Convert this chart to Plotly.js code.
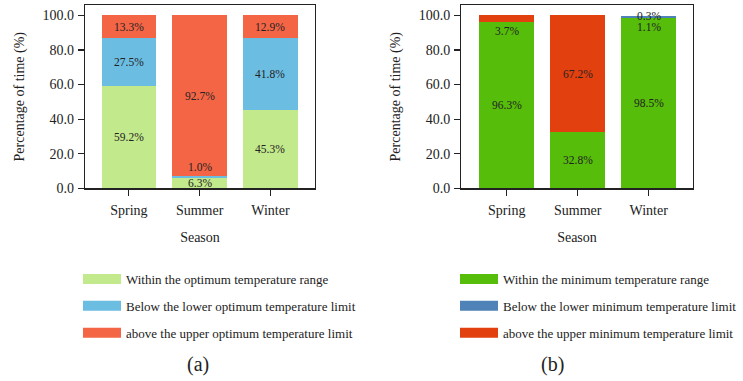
<!DOCTYPE html>
<html>
<head>
<meta charset="utf-8">
<script src="https://cdn.plot.ly/plotly-3.0.1.min.js"></script>
<style>
  html, body { margin: 0; padding: 0; background: #fff; }
  #chart { width: 743px; height: 381px; }
</style>
</head>
<body>
<div id="chart"></div>
<script>
// Seasons on the x axis (shared by both panels)
const seasons = ['Spring', 'Summer', 'Winter'];

// Panel (a): optimum temperature range, percentage of time
const optWithin = [59.2, 6.3, 45.3];
const optBelow  = [27.5, 1.0, 41.8];
const optAbove  = [13.3, 92.7, 12.9];
const optNames = [
  'Within the optimum temperature range',
  'Below the lower optimum temperature limit',
  'above the upper optimum temperature limit'
];

// Panel (b): minimum temperature range, percentage of time
const minWithin = [96.3, 32.8, 98.5];
const minBelow  = [0.0, 0.0, 1.1];
const minAbove  = [3.7, 67.2, 0.3];
const minNames = [
  'Within the minimum temperature range',
  'Below the lower minimum temperature limit',
  'above the upper minimum temperature limit'
];

const yTicks = [0, 20, 40, 60, 80, 100];

const colorsA = ['#c2e98b', '#6cbde2', '#f46546'];
const colorsB = ['#56bd0a', '#4f82b7', '#e3400f'];

const FONT = 'Liberation Serif, Times New Roman, serif';
const INK = '#222';
const W = 743, H = 381;

// placement of labels on thin segments: 'above' / 'below' the segment
const thinLabel = {
  'a|1|1': 'above',
  'b|0|2': 'below',
  'b|2|1': 'below'
};

function panel(series, names, colors, xa, ya, legendId, tag) {
  const traces = [];
  const notes = [];
  const base = seasons.map(() => 0);
  series.forEach((vals, si) => {
    traces.push({
      type: 'bar',
      x: seasons,
      y: vals,
      xaxis: xa, yaxis: ya,
      width: 0.77,
      marker: { color: colors[si], line: { width: 0 } },
      showlegend: false,
      hoverinfo: 'skip'
    });
    // legend key drawn as a wide, thick line
    traces.push({
      type: 'scatter',
      mode: 'lines',
      x: [null], y: [null],
      xaxis: xa, yaxis: ya,
      name: names[si],
      legend: legendId,
      legendgroup: tag + si,
      line: { color: colors[si], width: 10 },
      hoverinfo: 'skip'
    });
    vals.forEach((v, ci) => {
      if (v > 0) {
        const lo = base[ci], hi = base[ci] + v;
        const mode = thinLabel[tag + '|' + ci + '|' + si];
        const n = {
          xref: xa, yref: ya,
          x: seasons[ci],
          text: v.toFixed(1) + '%',
          showarrow: false,
          font: { family: FONT, size: 11.5, color: INK }
        };
        if (mode === 'above') { n.y = hi; n.yanchor = 'bottom'; n.yshift = 1; }
        else if (mode === 'below') { n.y = lo; n.yanchor = 'top'; n.yshift = -1; }
        else { n.y = (lo + hi) / 2; n.yanchor = 'middle'; }
        notes.push(n);
      }
      base[ci] += v;
    });
  });
  return { traces, notes };
}

const pa = panel([optWithin, optBelow, optAbove], optNames, colorsA, 'x', 'y', 'legend', 'a');
const pb = panel([minWithin, minBelow, minAbove], minNames, colorsB, 'x2', 'y2', 'legend2', 'b');

function xAxis(domain, range, anchor) {
  return {
    domain: domain, range: range, anchor: anchor,
    type: 'category',
    showline: true, mirror: true, linecolor: INK, linewidth: 1.2,
    ticks: 'outside', ticklen: 6, tickcolor: INK, tickwidth: 1.2,
    ticklabelstandoff: 3,
    showgrid: false, zeroline: false, fixedrange: true,
    tickfont: { family: FONT, size: 14, color: INK },
    title: { text: 'Season', font: { family: FONT, size: 14, color: INK }, standoff: 14 }
  };
}
function yAxis(domain, anchor) {
  return {
    domain: domain, range: [0, 106], anchor: anchor,
    tickvals: yTicks, tickformat: '.1f',
    showline: true, mirror: true, linecolor: INK, linewidth: 1.2,
    ticks: 'outside', ticklen: 6, tickcolor: INK, tickwidth: 1.2,
    ticklabelstandoff: 1,
    showgrid: false, zeroline: false, fixedrange: true,
    tickfont: { family: FONT, size: 14, color: INK },
    title: { text: 'Percentage of time (%)', font: { family: FONT, size: 14, color: INK }, standoff: 14 }
  };
}

const yDom = [1 - 188.4 / H, 1 - 5 / H];

const legendStyle = (x) => ({
  x: x, y: 1 - 264 / H, xanchor: 'left', yanchor: 'top',
  orientation: 'v', traceorder: 'grouped', tracegroupgap: 7,
  itemwidth: 38,
  bgcolor: 'rgba(0,0,0,0)', borderwidth: 0,
  font: { family: FONT, size: 13, color: INK },
  itemclick: false, itemdoubleclick: false
});

const layout = {
  width: W, height: H,
  margin: { l: 0, r: 0, t: 0, b: 0, autoexpand: false },
  paper_bgcolor: '#fff', plot_bgcolor: '#fff',
  barmode: 'stack',
  showlegend: true,
  xaxis: xAxis([85 / W, 315 / W], [-0.62, 2.63], 'y'),
  yaxis: yAxis(yDom, 'x'),
  xaxis2: xAxis([461.3 / W, 692.7 / W], [-0.64, 2.62], 'y2'),
  yaxis2: yAxis(yDom, 'x2'),
  legend: legendStyle(78 / W),
  legend2: legendStyle(455 / W),
  annotations: pa.notes.concat(pb.notes).concat([
    { xref: 'paper', yref: 'paper', x: 185 / W, y: 1 - 378 / H, yanchor: 'bottom',
      text: '(a)', showarrow: false, font: { family: FONT, size: 20, color: INK } },
    { xref: 'paper', yref: 'paper', x: 566 / W, y: 1 - 378 / H, yanchor: 'bottom',
      text: '(b)', showarrow: false, font: { family: FONT, size: 20, color: INK } }
  ])
};

Plotly.newPlot('chart', pa.traces.concat(pb.traces), layout, { displayModeBar: false, staticPlot: true });
</script>
</body>
</html>
